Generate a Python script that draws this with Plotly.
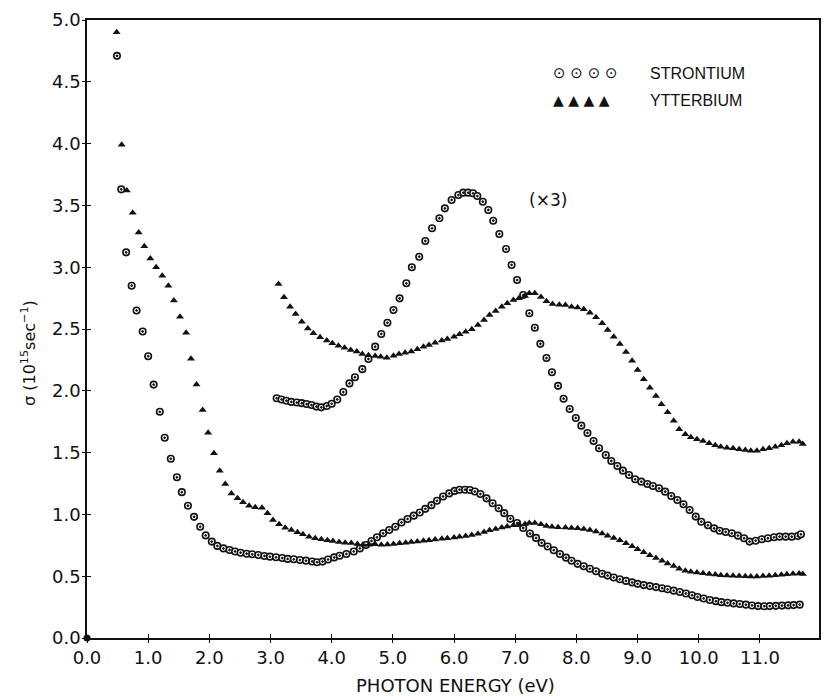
import plotly.graph_objects as go

# ---------------- data ----------------
strontium_energy = [0.49, 0.56, 0.64, 0.73, 0.81, 0.91, 1.00, 1.09, 1.19, 1.27, 1.37, 1.47, 1.55, 1.65,
                    1.75, 1.85, 1.94, 2.04, 2.13, 2.23, 2.33, 2.42, 2.51, 2.61, 2.70, 2.80, 2.90, 2.99,
                    3.09, 3.19, 3.28, 3.38, 3.48, 3.58, 3.68, 3.76, 3.85, 3.94, 4.04, 4.13, 4.24, 4.36,
                    4.46, 4.56, 4.65, 4.74, 4.84, 4.94, 5.04, 5.14, 5.24, 5.34, 5.44, 5.53, 5.63, 5.72,
                    5.82, 5.92, 6.01, 6.09, 6.18, 6.26, 6.34, 6.43, 6.53, 6.63, 6.73, 6.82, 6.92, 7.03,
                    7.13, 7.24, 7.34, 7.43, 7.53, 7.63, 7.73, 7.83, 7.92, 8.02, 8.12, 8.22, 8.32, 8.42,
                    8.51, 8.61, 8.71, 8.81, 8.91, 9.00, 9.10, 9.20, 9.30, 9.40, 9.49, 9.59, 9.69, 9.79,
                    9.89, 9.98, 10.08, 10.18, 10.28, 10.37, 10.47, 10.57, 10.67, 10.77, 10.87, 10.97,
                    11.07, 11.16, 11.26, 11.36, 11.46, 11.55, 11.65]
strontium_sigma = [4.71, 3.63, 3.12, 2.85, 2.65, 2.48, 2.28, 2.05, 1.83, 1.62, 1.45, 1.30, 1.18, 1.07,
                   0.98, 0.90, 0.83, 0.78, 0.745, 0.725, 0.712, 0.70, 0.69, 0.682, 0.677, 0.672, 0.664, 0.658,
                   0.653, 0.647, 0.640, 0.637, 0.631, 0.626, 0.619, 0.613, 0.618, 0.635, 0.652, 0.666, 0.68, 0.70,
                   0.725, 0.752, 0.785, 0.815, 0.847, 0.874, 0.90, 0.935, 0.963, 0.99, 1.015, 1.045, 1.075, 1.11,
                   1.145, 1.17, 1.19, 1.20, 1.20, 1.197, 1.185, 1.165, 1.13, 1.09, 1.05, 1.01, 0.965, 0.93,
                   0.89, 0.845, 0.81, 0.77, 0.74, 0.71, 0.68, 0.65, 0.625, 0.60, 0.58, 0.56, 0.54, 0.52,
                   0.505, 0.49, 0.475, 0.462, 0.45, 0.438, 0.428, 0.42, 0.412, 0.403, 0.394, 0.383, 0.372, 0.36,
                   0.346, 0.332, 0.32, 0.308, 0.298, 0.29, 0.285, 0.28, 0.275, 0.27, 0.263, 0.258,
                   0.257, 0.258, 0.26, 0.262, 0.264, 0.266, 0.27]

strontium_x3_energy = [3.10, 3.18, 3.26, 3.34, 3.43, 3.51, 3.59, 3.67, 3.75, 3.83, 3.92, 4.00, 4.09, 4.19,
                       4.29, 4.38, 4.50, 4.60, 4.71, 4.81, 4.91, 5.01, 5.11, 5.22, 5.31, 5.43, 5.53, 5.64,
                       5.76, 5.85, 5.96, 6.07, 6.15, 6.23, 6.31, 6.38, 6.47, 6.56, 6.64, 6.74, 6.85, 6.94,
                       7.03, 7.13, 7.23, 7.32, 7.41, 7.51, 7.60, 7.70, 7.79, 7.89, 7.99, 8.08, 8.18, 8.28,
                       8.37, 8.48, 8.57, 8.67, 8.76, 8.86, 8.96, 9.06, 9.16, 9.25, 9.35, 9.45, 9.55, 9.65,
                       9.75, 9.85, 9.95, 10.04, 10.15, 10.25, 10.34, 10.44, 10.54, 10.64, 10.74, 10.83,
                       10.93, 11.03, 11.13, 11.23, 11.32, 11.42, 11.52, 11.62, 11.67]
strontium_x3_sigma = [1.94, 1.93, 1.92, 1.91, 1.905, 1.90, 1.893, 1.885, 1.872, 1.866, 1.877, 1.895, 1.93, 1.99,
                      2.06, 2.11, 2.175, 2.257, 2.357, 2.46, 2.55, 2.654, 2.748, 2.87, 3.00, 3.085, 3.212, 3.315,
                      3.396, 3.476, 3.544, 3.584, 3.603, 3.603, 3.598, 3.576, 3.53, 3.463, 3.376, 3.269, 3.147, 3.018,
                      2.896, 2.775, 2.627, 2.51, 2.38, 2.265, 2.15, 2.04, 1.936, 1.853, 1.78, 1.718, 1.659, 1.594,
                      1.535, 1.481, 1.432, 1.392, 1.354, 1.319, 1.284, 1.265, 1.246, 1.23, 1.211, 1.184, 1.149, 1.117,
                      1.082, 1.036, 0.982, 0.941, 0.912, 0.887, 0.868, 0.858, 0.847, 0.828, 0.807, 0.78,
                      0.787, 0.799, 0.807, 0.815, 0.82, 0.82, 0.82, 0.825, 0.839]

ytterbium_energy = [0.485, 0.567, 0.65, 0.747, 0.845, 0.937, 1.035, 1.13, 1.23, 1.33, 1.42, 1.52, 1.62,
                    1.70, 1.79, 1.89, 1.98, 2.075, 2.17, 2.26, 2.36, 2.46, 2.55, 2.65, 2.75, 2.86, 2.95,
                    3.04, 3.14, 3.24, 3.34, 3.44, 3.53, 3.63, 3.73, 3.83, 3.93, 4.02, 4.12, 4.22, 4.32,
                    4.42, 4.51, 4.61, 4.71, 4.81, 4.91, 5.01, 5.11, 5.21, 5.30, 5.40, 5.50, 5.59, 5.69,
                    5.80, 5.89, 6.00, 6.09, 6.19, 6.29, 6.39, 6.49, 6.58, 6.68, 6.78, 6.87, 6.97, 7.06,
                    7.16, 7.23, 7.32, 7.42, 7.51, 7.60, 7.70, 7.82, 7.92, 8.02, 8.12, 8.22, 8.32, 8.42,
                    8.51, 8.61, 8.71, 8.81, 8.91, 9.00, 9.10, 9.20, 9.30, 9.40, 9.49, 9.59, 9.68, 9.78,
                    9.87, 9.97, 10.07, 10.17, 10.27, 10.36, 10.46, 10.56, 10.66, 10.76, 10.85, 10.95,
                    11.05, 11.15, 11.25, 11.35, 11.44, 11.54, 11.64, 11.70]
ytterbium_sigma = [4.90, 3.99, 3.62, 3.44, 3.28, 3.17, 3.07, 3.00, 2.93, 2.85, 2.73, 2.60, 2.47,
                   2.26, 2.05, 1.845, 1.66, 1.494, 1.354, 1.246, 1.17, 1.13, 1.098, 1.07, 1.057, 1.054, 1.009,
                   0.955, 0.92, 0.893, 0.874, 0.855, 0.839, 0.82, 0.807, 0.799, 0.79, 0.785, 0.777, 0.771, 0.769,
                   0.761, 0.755, 0.755, 0.758, 0.755, 0.756, 0.761, 0.766, 0.771, 0.777, 0.781, 0.786, 0.79, 0.796,
                   0.802, 0.807, 0.813, 0.819, 0.826, 0.833, 0.844, 0.858, 0.871, 0.882, 0.894, 0.903, 0.912, 0.916,
                   0.922, 0.93, 0.93, 0.92, 0.907, 0.90, 0.897, 0.895, 0.89, 0.887, 0.882, 0.874, 0.862, 0.845,
                   0.828, 0.81, 0.79, 0.767, 0.743, 0.718, 0.693, 0.67, 0.648, 0.625, 0.603, 0.582, 0.56, 0.545,
                   0.535, 0.529, 0.524, 0.518, 0.513, 0.508, 0.505, 0.503, 0.501, 0.50, 0.498, 0.498,
                   0.501, 0.504, 0.508, 0.512, 0.516, 0.52, 0.522, 0.518]

ytterbium_x3_energy = [3.13, 3.22, 3.32, 3.41, 3.51, 3.61, 3.70, 3.81, 3.92, 4.01, 4.11, 4.21, 4.31, 4.41,
                       4.50, 4.60, 4.71, 4.80, 4.90, 5.01, 5.10, 5.20, 5.30, 5.40, 5.50, 5.59, 5.69, 5.80,
                       5.89, 6.00, 6.09, 6.19, 6.29, 6.39, 6.49, 6.58, 6.68, 6.78, 6.87, 6.97, 7.06, 7.16,
                       7.23, 7.32, 7.42, 7.51, 7.61, 7.72, 7.82, 7.92, 8.02, 8.12, 8.22, 8.32, 8.42, 8.51,
                       8.61, 8.71, 8.81, 8.91, 9.00, 9.10, 9.20, 9.30, 9.39, 9.49, 9.59, 9.68, 9.78, 9.87,
                       9.97, 10.07, 10.17, 10.27, 10.36, 10.46, 10.56, 10.66, 10.76, 10.85, 10.95, 11.05,
                       11.15, 11.25, 11.35, 11.44, 11.54, 11.64, 11.70]
ytterbium_x3_sigma = [2.864, 2.756, 2.681, 2.621, 2.559, 2.505, 2.465, 2.433, 2.406, 2.384, 2.365, 2.349, 2.33, 2.317,
                      2.298, 2.288, 2.282, 2.276, 2.268, 2.284, 2.298, 2.308, 2.317, 2.336, 2.357, 2.371, 2.389, 2.406,
                      2.419, 2.438, 2.457, 2.478, 2.498, 2.532, 2.573, 2.613, 2.646, 2.681, 2.708, 2.735, 2.748, 2.767,
                      2.789, 2.789, 2.759, 2.724, 2.702, 2.697, 2.694, 2.681, 2.673, 2.659, 2.632, 2.595, 2.546, 2.492,
                      2.438, 2.379, 2.314, 2.244, 2.168, 2.093, 2.025, 1.958, 1.891, 1.826, 1.758, 1.688, 1.648, 1.624,
                      1.607, 1.594, 1.575, 1.559, 1.548, 1.54, 1.535, 1.527, 1.521, 1.515, 1.515, 1.527,
                      1.535, 1.548, 1.559, 1.575, 1.588, 1.588, 1.57]

origin_x = [0.0]
origin_y = [0.0]

x_tick_values = [0, 1, 2, 3, 4, 5, 6, 7, 8, 9, 10, 11]
x_tick_labels = ["0.0", "1.0", "2.0", "3.0", "4.0", "5.0", "6.0", "7.0", "8.0", "9.0", "10.0", "11.0"]
y_tick_values = [0, 0.5, 1.0, 1.5, 2.0, 2.5, 3.0, 3.5, 4.0, 4.5, 5.0]
y_tick_labels = ["0.0", "0.5", "1.0", "1.5", "2.0", "2.5", "3.0", "3.5", "4.0", "4.5", "5.0"]

# ---------------- figure ----------------
X_RANGE = [0, 11.965]
Y_RANGE = [0, 5.0]
INK = "#111111"
LABEL_FONT = "DejaVu Sans"

# plot-area pixel geometry (for placing paper-referenced texts)
PL, PR, PT, PB = 87, 819, 20, 638


def px_to_paper(px, py):
    return (px - PL) / (PR - PL), (PB - py) / (PB - PT)


sr_marker = dict(symbol="circle-dot", size=6.5, color="white", line=dict(color=INK, width=1.6))
yb_marker = dict(symbol="triangle-up", size=7, color=INK, line=dict(width=0))

fig = go.Figure()
fig.add_trace(go.Scatter(x=strontium_energy, y=strontium_sigma, mode="markers",
                         marker=sr_marker, name="STRONTIUM"))
fig.add_trace(go.Scatter(x=strontium_x3_energy, y=strontium_x3_sigma, mode="markers",
                         marker=sr_marker, name="STRONTIUM (x3)"))
fig.add_trace(go.Scatter(x=ytterbium_energy, y=ytterbium_sigma, mode="markers",
                         marker=yb_marker, name="YTTERBIUM"))
fig.add_trace(go.Scatter(x=ytterbium_x3_energy, y=ytterbium_x3_sigma, mode="markers",
                         marker=yb_marker, name="YTTERBIUM (x3)"))
fig.add_trace(go.Scatter(x=origin_x, y=origin_y, mode="markers", xaxis="x2", yaxis="y2",
                         marker=dict(symbol="circle", size=7, color=INK), cliponaxis=False,
                         name="origin", hoverinfo="skip"))

tickfont = dict(family=LABEL_FONT, size=18, color=INK)
fig.update_layout(
    width=827, height=696,
    margin=dict(l=PL, r=827 - PR, t=PT, b=696 - PB),
    paper_bgcolor="white", plot_bgcolor="white",
    showlegend=False,
    xaxis=dict(range=X_RANGE, tickvals=x_tick_values, ticktext=x_tick_labels,
               ticks="inside", ticklen=4, tickwidth=1.3, tickcolor=INK,
               showline=True, linewidth=1.6, linecolor=INK, mirror=True,
               showgrid=False, zeroline=False, tickfont=tickfont, ticklabelstandoff=3,
               automargin=False),
    yaxis=dict(range=Y_RANGE, tickvals=y_tick_values, ticktext=y_tick_labels,
               ticks="inside", ticklen=4, tickwidth=1.3, tickcolor=INK,
               showline=True, linewidth=1.6, linecolor=INK, mirror=True,
               showgrid=False, zeroline=False, tickfont=tickfont, ticklabelstandoff=1,
               automargin=False),
    xaxis2=dict(range=X_RANGE, overlaying="x", anchor="y2", side="bottom",
                tickvals=x_tick_values, ticks="outside", ticklen=4, tickwidth=1.3, tickcolor=INK,
                showticklabels=False, showline=False, showgrid=False, zeroline=False),
    yaxis2=dict(range=Y_RANGE, overlaying="y", anchor="x2", side="left",
                tickvals=y_tick_values, ticks="outside", ticklen=4, tickwidth=1.3, tickcolor=INK,
                showticklabels=False, showline=False, showgrid=False, zeroline=False),
)

annotations = []


def add_text(text, px, py, size, family=LABEL_FONT, xanchor="center", angle=0):
    x, y = px_to_paper(px, py)
    annotations.append(dict(text=text, xref="paper", yref="paper", x=x, y=y,
                            xanchor=xanchor, yanchor="middle", showarrow=False, textangle=angle,
                            font=dict(family=family, size=size, color=INK)))


add_text("PHOTON ENERGY (eV)", 455, 685, 18)
add_text("σ (10<sup>15</sup>sec<sup>−1</sup>)", 28, 353, 16, angle=-90)
add_text("(×3)", 548, 200, 17)
add_text("⊙ ⊙ ⊙ ⊙", 551, 73, 15, family="DejaVu Sans", xanchor="left")
add_text("▲ ▲ ▲ ▲", 551, 100, 14, family="DejaVu Sans", xanchor="left")
add_text("STRONTIUM", 648, 73, 16, family="Liberation Sans", xanchor="left")
add_text("YTTERBIUM", 648, 100, 16, family="Liberation Sans", xanchor="left")

fig.update_layout(annotations=annotations)

fig.write_html("out.html", config={"displayModeBar": False},
               post_script="document.body.style.margin='0px';document.body.style.overflow='hidden';")
